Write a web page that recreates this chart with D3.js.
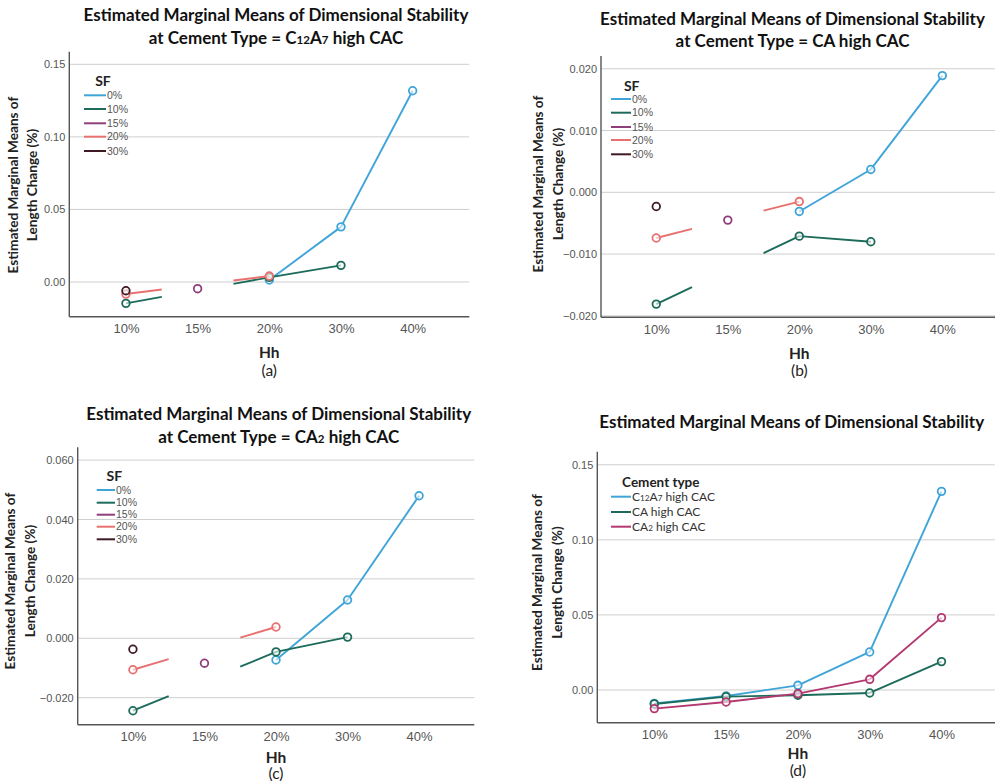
<!DOCTYPE html>
<html><head><meta charset="utf-8">
<script src="https://cdn.jsdelivr.net/npm/d3@7/dist/d3.min.js"></script>
<style>
html,body{margin:0;padding:0;background:#fff;}
svg{display:block;}
</style></head>
<body>
<svg id="chart" width="995" height="781"></svg>
<script>
// ---------- DATA ----------
const hhLevels = ["10%", "15%", "20%", "30%", "40%"];
const sfLevels = ["0%", "10%", "15%", "20%", "30%"];
const cementTypes = ["C12A7 high CAC", "CA high CAC", "CA2 high CAC"];

// Panel (a): Cement Type = C12A7 high CAC (rows = SF levels, cols = Hh levels)
const panelA_sf0  = [null, null, 0.0014, 0.0380, 0.1318];
const panelA_sf10 = [-0.0147, null, 0.0032, 0.0115, null];
const panelA_sf15 = [null, -0.0046, null, null, null];
const panelA_sf20 = [-0.0083, null, 0.0041, null, null];
const panelA_sf30 = [-0.0060, null, null, null, null];

// Panel (b): Cement Type = CA high CAC
const panelB_sf0  = [null, null, -0.0031, 0.0037, 0.0189];
const panelB_sf10 = [-0.0181, null, -0.0071, -0.0080, null];
const panelB_sf15 = [null, -0.0045, null, null, null];
const panelB_sf20 = [-0.0074, null, -0.0015, null, null];
const panelB_sf30 = [-0.0023, null, null, null, null];

// Panel (c): Cement Type = CA2 high CAC
const panelC_sf0  = [null, null, -0.0073, 0.0129, 0.0480];
const panelC_sf10 = [-0.0244, null, -0.0046, 0.0004, null];
const panelC_sf15 = [null, -0.0084, null, null, null];
const panelC_sf20 = [-0.0106, null, 0.0038, null, null];
const panelC_sf30 = [-0.0037, null, null, null, null];

// Panel (d): all cement types
const panelD_c12a7 = [-0.0089, -0.0040, 0.0031, 0.0253, 0.1323];
const panelD_ca    = [-0.0093, -0.0044, -0.0035, -0.0020, 0.0189];
const panelD_ca2   = [-0.0124, -0.0080, -0.0024, 0.0071, 0.0482];

const ticksA = [0, 0.05, 0.10, 0.15];
const ticksB = [-0.020, -0.010, 0.000, 0.010, 0.020];
const ticksC = [-0.020, 0.000, 0.020, 0.040, 0.060];
const ticksD = [0, 0.05, 0.10, 0.15];

// ---------- STYLE ----------
const sfColors = ["#3fa4d8", "#1d6b5b", "#8f3f7c", "#e8716f", "#3f1a24"];
const cementColors = ["#3fa4d8", "#1d6b5b", "#b2386f"];

const titleLine1 = "Estimated Marginal Means of Dimensional Stability";
const sub = (s) => ({t: s, sub: true});
const txt = (s) => ({t: s});

const panels = [
  { letter: "(a)", plot: {l: 69.3, r: 469.3, t: 51.7, b: 316.7}, pad: 0.79,
    yDomain: [-0.0239, 0.1587], ticks: ticksA, fmt: ".2f",
    title: [[txt(titleLine1)], [txt("at Cement Type = C"), sub("12"), txt("A"), sub("7"), txt(" high CAC")]],
    titleX: 276, titleY: [21, 44],
    ylabX: [13, 32], ylabY: 185, hhY: 352, letY: 370,
    legend: {title: "SF", titleX: 103, titleY: 80, x1: 84, x2: 106, ys: [95.3, 109, 123.3, 136.7, 151], fs: 10.5, tfs: 14, color: "#555"},
    labels: sfLevels.map(s => [txt(s)]), colors: sfColors,
    series: [panelA_sf0, panelA_sf10, panelA_sf15, panelA_sf20, panelA_sf30] },
  { letter: "(b)", plot: {l: 601, r: 997.6, t: 56, b: 317.3}, pad: 0.773,
    yDomain: [-0.02024, 0.02207], ticks: ticksB, fmt: ".3f",
    title: [[txt(titleLine1)], [txt("at Cement Type = CA high CAC")]],
    titleX: 792.5, titleY: [25, 47],
    ylabX: [538.3, 558.3], ylabY: 184, hhY: 353.3, letY: 370,
    legend: {title: "SF", titleX: 631.7, titleY: 85, x1: 611, x2: 631, ys: [99, 112.7, 127, 140, 154.3], fs: 10.5, tfs: 14, color: "#555"},
    labels: sfLevels.map(s => [txt(s)]), colors: sfColors,
    series: [panelB_sf0, panelB_sf10, panelB_sf15, panelB_sf20, panelB_sf30] },
  { letter: "(c)", plot: {l: 77.7, r: 474.3, t: 447.3, b: 724.7}, pad: 0.772,
    yDomain: [-0.0291, 0.0643], ticks: ticksC, fmt: ".3f",
    title: [[txt(titleLine1)], [txt("at Cement Type = CA"), sub("2"), txt(" high CAC")]],
    titleX: 278.7, titleY: [420, 442.7],
    ylabX: [10, 30], ylabY: 581, hhY: 756.7, letY: 773.3,
    legend: {title: "SF", titleX: 114.3, titleY: 475, x1: 96.7, x2: 115, ys: [490, 502.7, 514.7, 526.7, 539.3], fs: 10.5, tfs: 14, color: "#555"},
    labels: sfLevels.map(s => [txt(s)]), colors: sfColors,
    series: [panelC_sf0, panelC_sf10, panelC_sf15, panelC_sf20, panelC_sf30] },
  { letter: "(d)", plot: {l: 597.3, r: 998.5, t: 451.7, b: 722.7}, pad: 0.794,
    yDomain: [-0.0218, 0.1587], ticks: ticksD, fmt: ".2f",
    title: [[txt(titleLine1)]],
    titleX: 791.7, titleY: [428.3],
    ylabX: [536.7, 556.7], ylabY: 582.5, hhY: 753.3, letY: 770,
    legend: {title: "Cement type", titleX: 660.8, titleY: 481.7, x1: 611, x2: 631, ys: [496.7, 512, 526.7], fs: 12, tfs: 13.5, color: "#333"},
    labels: [[txt("C"), sub("12"), txt("A"), sub("7"), txt(" high CAC")], [txt("CA high CAC")], [txt("CA"), sub("2"), txt(" high CAC")]],
    colors: cementColors,
    series: [panelD_c12a7, panelD_ca, panelD_ca2] }
];

const svg = d3.select("#chart");
const TITLE_FONT = "Lato, 'Open Sans', sans-serif";
const TICK_FONT = "'Liberation Sans', Arial, sans-serif";

function addParts(textSel, parts, fs) {
  parts.forEach(p => {
    textSel.append("tspan").attr("font-size", p.sub ? fs * 0.68 : fs).text(p.t);
  });
}

panels.forEach(P => {
  const g = svg.append("g");
  const x = d3.scalePoint().domain(hhLevels).range([P.plot.l, P.plot.r]).padding(P.pad);
  const y = d3.scaleLinear().domain(P.yDomain).range([P.plot.b, P.plot.t]);

  // gridlines
  g.append("g").selectAll("line").data(P.ticks).join("line")
    .attr("x1", P.plot.l).attr("x2", P.plot.r)
    .attr("y1", d => y(d)).attr("y2", d => y(d))
    .attr("stroke", "#cfcfcf").attr("stroke-width", 1);

  // y axis (no tick lines)
  const yAxis = d3.axisLeft(y).tickValues(P.ticks).tickFormat(d3.format(P.fmt)).tickSize(0).tickPadding(4);
  const ya = g.append("g").attr("transform", `translate(${P.plot.l},0)`).call(yAxis);
  ya.select(".domain").remove();
  ya.selectAll("text").attr("font-family", TICK_FONT).attr("font-size", 11).attr("fill", "#555");

  // x axis
  const xAxis = d3.axisBottom(x).tickSize(0).tickPadding(7);
  const xa = g.append("g").attr("transform", `translate(0,${P.plot.b})`).call(xAxis);
  xa.select(".domain").remove();
  xa.selectAll("text").attr("font-family", TICK_FONT).attr("font-size", 13).attr("fill", "#555");

  // axis lines
  g.append("line").attr("x1", P.plot.l).attr("x2", P.plot.l).attr("y1", P.plot.t).attr("y2", P.plot.b)
    .attr("stroke", "#555").attr("stroke-width", 1.4);
  g.append("line").attr("x1", P.plot.l).attr("x2", P.plot.r).attr("y1", P.plot.b).attr("y2", P.plot.b)
    .attr("stroke", "#555").attr("stroke-width", 1.4);

  // series lines (gaps over missing categories, half-step stubs)
  P.series.forEach((vals, si) => {
    const pts = vals.map((v, i) => v == null ? null : {i, v}).filter(d => d);
    const segs = [];
    for (let k = 0; k < pts.length - 1; k++) {
      const a = pts[k], b = pts[k + 1];
      const xa_ = x(hhLevels[a.i]), xb_ = x(hhLevels[b.i]);
      const ya_ = y(a.v), yb_ = y(b.v);
      const span = b.i - a.i;
      if (span === 1) {
        segs.push([[xa_, ya_], [xb_, yb_]]);
      } else {
        const t = 0.5 / span;
        const lerp = (tt) => [xa_ + (xb_ - xa_) * tt, ya_ + (yb_ - ya_) * tt];
        segs.push([[xa_, ya_], lerp(t)]);
        segs.push([lerp(1 - t), [xb_, yb_]]);
      }
    }
    g.append("g").selectAll("path").data(segs).join("path")
      .attr("d", d3.line())
      .attr("fill", "none").attr("stroke", P.colors[si]).attr("stroke-width", 1.9);
    g.append("g").selectAll("circle").data(pts).join("circle")
      .attr("cx", d => x(hhLevels[d.i])).attr("cy", d => y(d.v)).attr("r", 3.8)
      .attr("fill", "#fff").attr("fill-opacity", 0.6).attr("stroke", P.colors[si]).attr("stroke-width", 1.8);
  });

  // title
  let titleFs = 16;
  const t1 = g.append("text").attr("x", P.titleX).attr("y", P.titleY[0]).attr("text-anchor", "middle")
    .attr("font-family", TITLE_FONT).attr("font-weight", "bold").attr("fill", "#111");
  addParts(t1, P.title[0], titleFs);
  const w = t1.node().getComputedTextLength();
  titleFs = 16 * 385 / w;
  t1.selectAll("tspan").attr("font-size", titleFs);
  for (let li = 1; li < P.title.length; li++) {
    const tl = g.append("text").attr("x", P.titleX).attr("y", P.titleY[li]).attr("text-anchor", "middle")
      .attr("font-family", TITLE_FONT).attr("font-weight", "bold").attr("fill", "#111");
    addParts(tl, P.title[li], titleFs);
  }

  // y-axis label (two lines, rotated)
  const ylab = ["Estimated Marginal Means of", "Length Change (%)"];
  let ylFs = 13;
  ylab.forEach((s, li) => {
    const tt = g.append("text")
      .attr("transform", `translate(${P.ylabX[li]},${P.ylabY}) rotate(-90)`)
      .attr("text-anchor", "middle").attr("dominant-baseline", "central")
      .attr("font-family", TITLE_FONT).attr("font-weight", "bold").attr("fill", "#222")
      .attr("font-size", ylFs).text(s);
    if (li === 0) {
      const ww = tt.node().getComputedTextLength();
      ylFs = 13 * 177 / ww;
      tt.attr("font-size", ylFs);
    }
  });

  // x-axis title + panel letter
  const cx = (P.plot.l + P.plot.r) / 2;
  g.append("text").attr("x", cx).attr("y", P.hhY).attr("text-anchor", "middle").attr("dominant-baseline", "central")
    .attr("font-family", TITLE_FONT).attr("font-weight", "bold").attr("font-size", 15.5).attr("fill", "#222").text("Hh");
  g.append("text").attr("x", cx).attr("y", P.letY).attr("text-anchor", "middle").attr("dominant-baseline", "central")
    .attr("font-family", TITLE_FONT).attr("font-size", 15.5).attr("fill", "#222").text(P.letter);

  // legend
  const L = P.legend;
  g.append("text").attr("x", L.titleX).attr("y", L.titleY).attr("text-anchor", "middle").attr("dominant-baseline", "central")
    .attr("font-family", TITLE_FONT).attr("font-weight", "bold").attr("font-size", L.tfs).attr("fill", "#222").text(L.title);
  P.labels.forEach((parts, i) => {
    g.append("line").attr("x1", L.x1).attr("x2", L.x2).attr("y1", L.ys[i]).attr("y2", L.ys[i])
      .attr("stroke", P.colors[i]).attr("stroke-width", 2);
    const lt = g.append("text").attr("x", L.x2 + 1).attr("y", L.ys[i] + L.fs * 0.36)
      .attr("font-family", P.letter === "(d)" ? TITLE_FONT : TICK_FONT).attr("fill", L.color);
    addParts(lt, parts, L.fs);
  });
});
</script>
</body></html>
